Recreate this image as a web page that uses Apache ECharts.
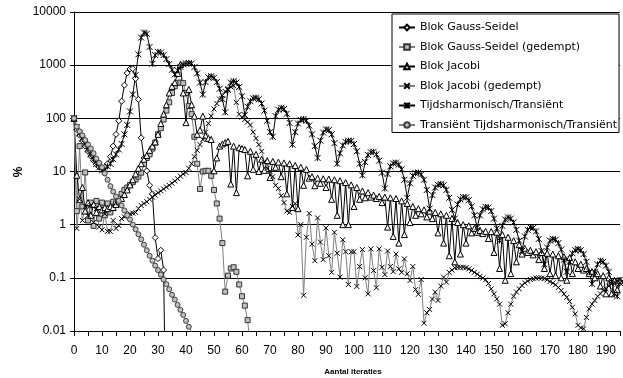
<!DOCTYPE html>
<html>
<head>
<meta charset="utf-8">
<script src="https://cdn.jsdelivr.net/npm/echarts@6/dist/echarts.min.js"></script>
<style>
html,body{margin:0;padding:0;background:#fff;}
#chart{width:623px;height:378px;}
</style>
</head>
<body>
<div id="chart"></div>
<script>
// ---- DATA (index = iteration number) ----
var seriesNames = ['Blok Gauss-Seidel','Blok Gauss-Seidel (gedempt)','Blok Jacobi','Blok Jacobi (gedempt)','Tijdsharmonisch/Transiënt','Transiënt Tijdsharmonisch/Transiënt'];
var yTickLabels = ['0.01','0.1','1','10','100','1000','10000'];
var xTickStep = 10;
var xAxisTitle = 'Aantal iteraties';
var yAxisTitle = '%';

var gaussSeidel = [100,62,48,38,30,24,19.5,16,13.5,12.2,11.5,12,14,19,30,50,90,210,420,710,
  850,860,560,227,43,18,10.3,5.5,3.8,0.57,0.23,0.33,0.14,0.00003];

var gaussSeidelDamped = [100,1.8,30,2.2,9.6,1.2,2.6,0.95,2.8,1.3,2.6,1.5,2.5,1.7,2.7,2.5,3.2,3.8,4.5,5.0,
  5.6,6.3,7.1,8,9.5,14,18,21,27,35,50,65,95,140,200,300,400,465,470,460,
  300,170,120,45,14,4.7,10,10.3,10.3,8.3,4.5,2.5,1.3,0.45,0.055,0.11,0.15,0.158,0.13,0.075,
  0.045,0.03,0.016,0.005];

var jacobi = [100,8.5,3,5,1.8,2.6,1.5,2.4,1.7,2.2,1.9,2.1,2.0,2.2,2.1,2.4,2.7,3.1,3.7,4.5,
  5.6,7,9,11.5,14,17,20,25,30,36,50,80,120,180,300,400,470,700,1030,300,
  83,350,180,110,50,60,110,47,42,40,10.3,18,30,33,35,37,5.8,30,4,28,
  27,26,8.3,24,11,21,10,17,10.5,16,7.7,15.5,12,15,8,14.5,3.8,14,2.1,13,
  2.0,12,5.5,11,7.5,8,5.4,7.5,6,7.3,5,7.2,3,7,1.5,6.7,1.0,6.2,1.0,5.6,
  2.2,5,3.0,4.3,3.2,4,3.3,3.6,3.1,3.4,2.6,3.3,0.9,3.2,0.6,3.1,0.45,2.8,0.65,2.5,
  1.1,2.2,1.5,2.0,1.6,1.9,1.4,1.8,1.3,1.7,0.7,1.6,0.45,1.5,0.26,1.3,0.2,1.1,0.28,1.0,
  0.45,0.95,0.7,0.85,0.72,0.78,0.68,0.75,0.55,0.74,0.3,0.72,0.15,0.65,0.09,0.58,0.12,0.5,0.2,0.42,
  0.28,0.36,0.3,0.33,0.27,0.31,0.22,0.3,0.15,0.29,0.12,0.28,0.11,0.26,0.1,0.25,0.09,0.24,0.12,0.2,
  0.15,0.18,0.14,0.15,0.12,0.13,0.1,0.12,0.07,0.11,0.05,0.1,0.05,0.09,0.06,0.09];

var jacobiDamped = [100,0.85,3,1.2,2.2,1.5,2.3,1.1,2,0.9,0.8,1.6,0.75,0.75,1.2,0.85,0.96,1.3,1.4,1.5,
  1.6,1.65,1.7,2.0,2.3,2.5,2.7,3.0,3.3,3.6,4.0,4.3,4.7,5.1,5.5,6.0,6.6,7.3,8.2,9.0,
  9.6,11.5,14,19,25,32,40,55,80,110,150,190,230,270,320,360,390,410,200,119,
  105,95,85,75,55,42,32,24,15,11.5,10,8,5.5,4.8,3.5,2.6,1.8,1.7,2.2,2.5,
  0.64,1.0,0.047,0.58,1.63,0.43,0.21,1.34,0.47,0.22,0.87,0.26,0.127,0.72,0.29,0.103,0.52,0.31,0.075,0.31,
  0.31,0.069,0.163,0.34,0.1,0.05,0.35,0.137,0.065,0.35,0.158,0.115,0.32,0.163,0.131,0.28,0.147,0.127,0.227,0.119,
  0.089,0.163,0.06,0.049,0.093,0.014,0.022,0.0254,0.04,0.054,0.0375,0.07,0.103,0.083,0.127,0.14,0.155,0.158,0.158,0.158,
  0.155,0.147,0.138,0.127,0.117,0.107,0.099,0.092,0.078,0.062,0.05,0.04,0.032,0.0128,0.0137,0.022,0.032,0.045,0.054,0.062,
  0.072,0.08,0.087,0.093,0.096,0.099,0.1,0.099,0.097,0.092,0.085,0.08,0.074,0.066,0.058,0.05,0.043,0.036,0.028,0.021,
  0.0128,0.0115,0.011,0.018,0.026,0.032,0.0375,0.045,0.05,0.058,0.062,0.07,0.077,0.083,0.089,0.093];

var tijdsharmonisch = [100,68,52,41,33,26,21,17,14,12,10.5,11,12.5,14,17,21,26,33,50,75,
  135,280,650,1600,3300,4100,3900,2200,1060,1550,1780,1720,1550,1300,1050,820,670,800,930,1030,
  1080,1100,1070,920,700,470,280,480,590,620,580,480,360,230,130,340,470,500,470,390,
  260,115,165,210,238,245,228,190,140,90,55,45,110,145,158,150,122,82,32,55,
  80,93,97,90,73,50,30,18,38,54,62,60,50,34,14,22,31,36,38,37.5,
  33,24,14,8.5,15,20.5,23,23.5,21,16,9.5,4.8,9,12.5,14.2,14.7,13.5,11,7,3.2,
  6,8.3,9.3,9.6,8.8,7,4.5,2.0,3.6,5,5.6,5.85,5.5,4.5,3.2,1.9,1.3,2.4,3.0,3.3,
  3.25,2.9,2.2,1.5,0.89,1.5,1.95,2.15,2.1,1.8,1.3,0.85,0.5,0.95,1.25,1.37,1.3,1.1,0.8,0.5,
  0.32,0.6,0.8,0.89,0.87,0.75,0.54,0.32,0.18,0.37,0.5,0.54,0.52,0.45,0.34,0.22,0.13,0.2,0.29,0.33,
  0.35,0.33,0.28,0.2,0.13,0.077,0.13,0.18,0.21,0.2,0.17,0.13,0.085,0.05,0.045,0.08];

var transient = [100,70,57,48,39,32,27,22,17.5,14.5,12,9.2,7,5.3,4.2,3.4,2.8,2.3,1.85,1.5,
  1.25,1.0,0.82,0.66,0.53,0.42,0.33,0.26,0.21,0.17,0.14,0.115,0.093,0.076,0.061,0.048,0.039,0.031,0.025,0.02,
  0.0155,0.012,0.0095,0.0075];

function pairs(arr){ return arr.map(function(v,i){ return [i, v]; }); }

var symX = 'path://M0,0L10,10M10,0L0,10';
var symStar = 'path://M0,0L10,10M10,0L0,10M5,0L5,10';

var chart = echarts.init(document.getElementById('chart'), null, {renderer:'canvas'});
var FONT = 'Liberation Sans, Arial, sans-serif';

function mk(name, data, lineColor, symbol, size, fill, border){
  return {
    name: name, type: 'line', data: pairs(data),
    symbol: symbol, symbolSize: size, showSymbol: true,
    clip: true, animation: false,
    lineStyle: {color: lineColor, width: 1},
    itemStyle: {color: fill, borderColor: border, borderWidth: 1},
    emphasis: {disabled: true}
  };
}

var option = {
  animation: false,
  backgroundColor: '#fff',
  textStyle: {fontFamily: FONT},
  grid: {left: 74, right: 3, top: 12, bottom: 47},
  legend: {
    orient: 'vertical', left: 392, top: 14,
    backgroundColor: '#fff', borderColor: '#000', borderWidth: 1,
    padding: [8, 2, 2, 6],
    itemWidth: 16, itemHeight: 7, itemGap: 8.5,
    textStyle: {fontFamily: 'DejaVu Sans, sans-serif', fontSize: 11, color: '#000'},
    data: seriesNames
  },
  graphic: [
    {type: 'text', x: 353, y: 372, z: 10,
     style: {text: xAxisTitle, font: 'bold 8px Liberation Sans, Arial, sans-serif', fill: '#000', textAlign: 'center', textVerticalAlign: 'middle'}},
    {type: 'text', x: 19, y: 172, rotation: Math.PI / 2, z: 10,
     style: {text: yAxisTitle, font: 'bold 12px Liberation Sans, Arial, sans-serif', fill: '#000', textAlign: 'center', textVerticalAlign: 'middle'}}
  ],
  xAxis: {
    type: 'value', min: 0, max: 195, interval: xTickStep / 2,
    axisLine: {show: true, lineStyle: {color: '#000', width: 1}},
    axisTick: {show: true, length: 5, lineStyle: {color: '#000'}},
    axisLabel: {color: '#000', fontSize: 12, fontFamily: FONT, margin: 14,
      formatter: function(v){ return (v % xTickStep === 0) ? String(v) : ''; }},
    splitLine: {show: false}
  },
  yAxis: {
    type: 'log', logBase: 10, min: 0.01, max: 10000,
    axisLine: {show: true, onZero: false, lineStyle: {color: '#000', width: 1}},
    axisTick: {show: true, length: 4, lineStyle: {color: '#000'}},
    axisLabel: {color: '#000', fontSize: 12, fontFamily: FONT, margin: 8,
      formatter: function(v){ var k = Math.round(Math.log10(v)) + 2; return yTickLabels[k] || ''; }},
    splitLine: {show: true, lineStyle: {color: '#000', width: 1}}
  },
  series: [
    mk(seriesNames[0], gaussSeidel, '#000', 'diamond', 6, '#fff', '#000'),
    mk(seriesNames[1], gaussSeidelDamped, '#808080', 'rect', 5, '#c0c0c0', '#333'),
    mk(seriesNames[2], jacobi, '#000', 'triangle', 6, '#fff', '#000'),
    mk(seriesNames[3], jacobiDamped, '#808080', symX, 5, '#000', '#000'),
    mk(seriesNames[4], tijdsharmonisch, '#000', symStar, 6, '#000', '#000'),
    mk(seriesNames[5], transient, '#808080', 'circle', 5, '#c0c0c0', '#404040')
  ]
};
chart.setOption(option);
</script>
</body>
</html>
